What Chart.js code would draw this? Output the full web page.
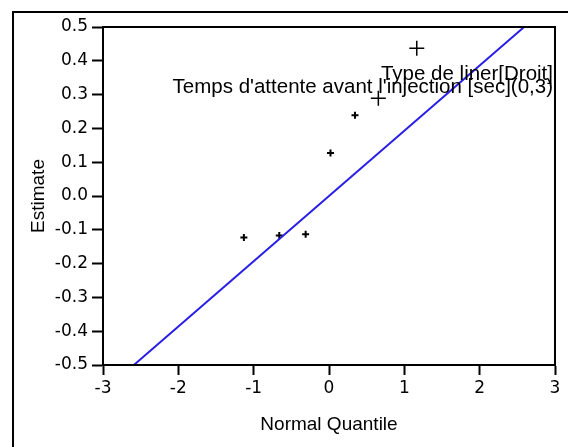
<!DOCTYPE html>
<html lang="fr">
<head>
<meta charset="UTF-8">
<title>Normal Plot</title>
<script src="https://cdn.jsdelivr.net/npm/chart.js"></script>
<style>
  body { margin: 0; background: #fff; }
  canvas { display: block; }
</style>
</head>
<body>
<canvas id="plot" width="568" height="447"></canvas>
<script>
// normal quantile (x) vs estimate (y)
const quantiles = [-1.13, -0.66, -0.31, 0.02, 0.345, 0.655, 1.165];
const estimates = [-0.123, -0.117, -0.113, 0.127, 0.239, 0.289, 0.437];
const pointNames = ['', '', '', '', '', "Temps d'attente avant l'injection [sec](0,3)", 'Type de liner[Droit]'];
// where the name text sits (estimate units, baseline)
const nameY = [null, null, null, null, null, 0.305, 0.342];

// reference line through the origin
const lineX = [-2.59, 2.59];
const lineY = [-0.5, 0.5];

const xTicks = [-3, -2, -1, 0, 1, 2, 3];
const yTicks = [-0.5, -0.4, -0.3, -0.2, -0.1, 0.0, 0.1, 0.2, 0.3, 0.4, 0.5];

const tickFont = { family: 'DejaVu Sans', size: 17 };
const titleFont = { family: 'Liberation Sans', size: 19 };

const framePlugin = {
  id: 'frame',
  beforeDraw(chart) {
    const ctx = chart.ctx;
    ctx.save();
    ctx.fillStyle = '#fff';
    ctx.fillRect(0, 0, chart.width, chart.height);
    // outer box (left and top edges visible)
    ctx.strokeStyle = '#000';
    ctx.lineWidth = 2;
    ctx.beginPath();
    ctx.moveTo(13, chart.height + 5);
    ctx.lineTo(13, 12);
    ctx.lineTo(chart.width + 5, 12);
    ctx.stroke();
    ctx.restore();
  },
  afterDraw(chart) {
    const ctx = chart.ctx;
    const a = chart.chartArea;
    ctx.save();
    ctx.strokeStyle = '#000';
    ctx.lineWidth = 2;
    ctx.strokeRect(a.left, a.top, a.right - a.left, a.bottom - a.top);

    // point names, right-aligned to the plot edge
    const ys = chart.scales.y;
    ctx.fillStyle = '#000';
    ctx.font = '20.5px "Liberation Sans"';
    ctx.textAlign = 'right';
    ctx.textBaseline = 'alphabetic';
    pointNames.forEach((name, i) => {
      if (!name) return;
      ctx.fillText(name, a.right - 2, ys.getPixelForValue(nameY[i]));
    });
    ctx.restore();
  }
};

new Chart(document.getElementById('plot'), {
  type: 'scatter',
  data: {
    datasets: [
      {
        type: 'line',
        data: lineX.map((x, i) => ({ x: x, y: lineY[i] })),
        borderColor: '#2a1fe6',
        borderWidth: 2,
        pointRadius: 0,
        fill: false
      },
      {
        data: quantiles.map((x, i) => ({ x: x, y: estimates[i] })),
        pointStyle: 'cross',
        pointRadius: ctx => pointNames[ctx.dataIndex] ? 7.5 : 3.5,
        pointBorderWidth: ctx => pointNames[ctx.dataIndex] ? 1.5 : 2,
        borderColor: '#000',
        backgroundColor: '#000'
      }
    ]
  },
  options: {
    responsive: false,
    animation: false,
    events: [],
    layout: { padding: { top: 27, right: 13, bottom: 0, left: 0 } },
    plugins: { legend: { display: false }, tooltip: { enabled: false } },
    scales: {
      x: {
        type: 'linear',
        min: -3,
        max: 3,
        afterFit: s => { s.height = 82; },
        afterBuildTicks: s => { s.ticks = xTicks.map(v => ({ value: v })); },
        ticks: { color: '#000', font: tickFont, padding: 3, maxRotation: 0,
                 callback: v => String(v) },
        grid: { drawOnChartArea: false, color: '#000', tickLength: 10, tickWidth: 2 },
        border: { color: '#000', width: 2 },
        title: { display: true, text: 'Normal Quantile', color: '#000', font: titleFont,
                 padding: { top: 0, bottom: 11 } }
      },
      y: {
        type: 'linear',
        min: -0.5,
        max: 0.5,
        afterFit: s => { s.width = 103; },
        afterBuildTicks: s => { s.ticks = yTicks.map(v => ({ value: v })); },
        ticks: { color: '#000', font: tickFont, padding: 4,
                 callback: v => v.toFixed(1) },
        grid: { drawOnChartArea: false, color: '#000', tickLength: 11, tickWidth: 2 },
        border: { color: '#000', width: 2 },
        title: { display: true, text: 'Estimate', color: '#000', font: titleFont,
                 padding: { top: 27, bottom: 0 } }
      }
    }
  },
  plugins: [framePlugin]
});
</script>
</body>
</html>
